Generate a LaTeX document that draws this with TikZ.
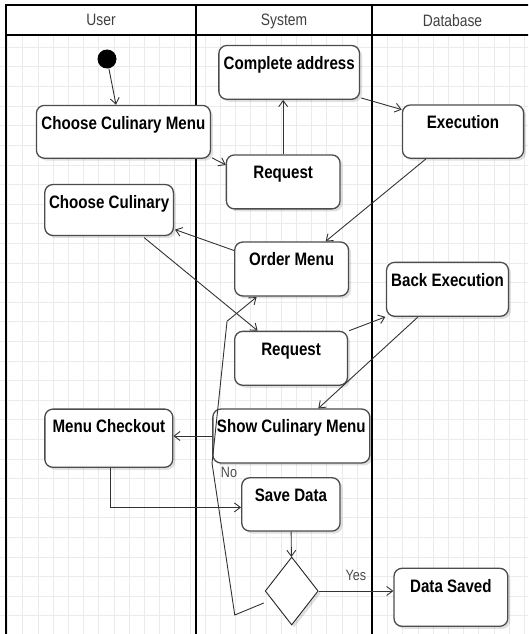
\documentclass[tikz,border=0pt]{standalone}
\usepackage{fontspec}
\setmainfont{Liberation Sans}[FakeStretch=0.84]
\usepackage{xcolor}
\usetikzlibrary{arrows.meta,calc,shapes.geometric,shadows}

\begin{document}
\begin{tikzpicture}[x=1pt, y=-1pt,
    gridline/.style={draw=black!8, line width=0.8pt},
    lane/.style={line width=2pt},
    head/.style={font=\fontsize{16.5}{18}\selectfont, text=black!75, anchor=base},
    act/.style={draw=black!70, line width=1.3pt, rounded corners=8pt, fill=white,
        drop shadow={shadow xshift=2.5pt, shadow yshift=-2.5pt, fill=black, opacity=0.12},
        font=\fontsize{18}{20}\selectfont\bfseries, inner xsep=2pt, inner ysep=10.8pt,
        text height=13pt, text depth=#1},
    act/.default=19.3pt,
    dec/.style={diamond, draw=black!85, line width=0.9pt, fill=white, inner sep=0pt,
        minimum width=53pt, minimum height=68pt,
        drop shadow={shadow xshift=2.5pt, shadow yshift=-2.5pt, fill=black, opacity=0.12}},
    arr/.style={draw=black!80, line width=0.9pt, -{Straight Barb[length=6pt,width=9pt]}},
    lbl/.style={font=\fontsize{15}{17}\selectfont, text=black!70}]
    \clip (0,0) rectangle (528,634);

    % Grid
    \foreach \gx in {7.5,22.7,...,528} \draw[gridline] (\gx,0) -- (\gx,634);
    \foreach \gy in {8.1,27.7,...,634} \draw[gridline] (0,\gy) -- (528,\gy);

    % Swimlanes
    \fill[white] (0,0) rectangle (540,34.7);
    \draw[lane] (540,5) -- (6,5) -- (6,640);
    \draw[lane] (6,34.7) -- (540,34.7);
    \draw[lane] (196,5) -- (196,640);
    \draw[lane] (372,5) -- (372,640);
    \node[head] (huser) at (101,26) {User};
    \node[head] (hsys) at (284,26) {System};
    \node[head] (hdb) at (452.5,26.5) {Database};

    % Activities
    \node[circle, fill=black, minimum size=19pt, inner sep=0pt] (start) at (107,59) {};
    \node[act=18.2pt, minimum width=174pt] (ccm) at (123.4,131.8) {Choose Culinary Menu};
    \node[act=19.2pt, minimum width=140.7pt] (addr) at (289.2,72.4) {Complete address};
    \node[act, minimum width=113.7pt] (req1) at (283.2,181.9) {Request};
    \node[act=18.6pt, minimum width=121.2pt] (exec) at (463,131.6) {Execution};
    \node[act=16.3pt, minimum width=128.6pt] (cc) at (109.1,210) {Choose Culinary};
    \node[act, minimum width=113.8pt] (order) at (291.6,269) {Order Menu};
    \node[act, minimum width=121.9pt] (back) at (447.5,289.3) {Back Execution};
    \node[act, minimum width=112.8pt] (req2) at (291.1,358.3) {Request};
    \node[act=23.6pt, minimum width=127.9pt] (checkout) at (108.8,438.2) {Menu Checkout};
    \node[act, minimum width=156.9pt] (show) at (291.3,436) {Show Culinary Menu};
    \node[act=18.7pt, minimum width=98.3pt] (save) at (290.9,504.4) {Save Data};
    \node[dec] (dec) at (291.7,591) {};
    \node[act=23.4pt, minimum width=113.8pt] (saved) at (450.9,597.3) {Data Saved};

    % Flow
    \draw[arr] (start) -- ($(ccm.north)+(-7.4,0)$);
    \draw[arr] ($(ccm.south east)+(1,-1)$) -- ($(req1.west)+(0,-17)$);
    \draw[arr] (req1.north) -- (req1.north |- addr.south);
    \draw[arr] ($(addr.south east)+(1,-2)$) -- ($(exec.west)+(0,-22)$);
    \draw[arr] ($(exec.south)+(-37,0)$) -- ($(order.north)+(34,0)$);
    \draw[arr] ($(order.west)+(0,-18.5)$) -- ($(cc.east)+(1,19.6)$);
    \draw[arr] ($(cc.south)+(35,1.5)$) -- ($(req2.north)+(-33.5,0)$);
    \draw[arr] ($(req2.north east)+(1,0)$) -- ($(back.south west)+(-0.5,0)$);
    \draw[arr] ($(back.south)+(-30,0.5)$) -- ($(show.north)+(27,0)$);
    \draw[arr] (show.west) -- (show.west -| checkout.east);
    \draw[arr] ($(checkout.south)+(2,0)$) |- ($(save.west)+(0,3)$);
    \draw[arr] (save) -- (dec);
    \draw[arr] (dec.east) -- (dec.east -| saved.west) node[lbl, midway, above=7pt] {Yes};
    \draw[arr] ($(dec.west)+(-1,12)$) -- ++(-29,12) -- ++(-22.7,-151.7) -- ++(15,-142.1)
        -- ($(order.south west)+(22.5,0.5)$);
    \node[lbl] (no) at (229,472) {No};
\end{tikzpicture}
\end{document}
